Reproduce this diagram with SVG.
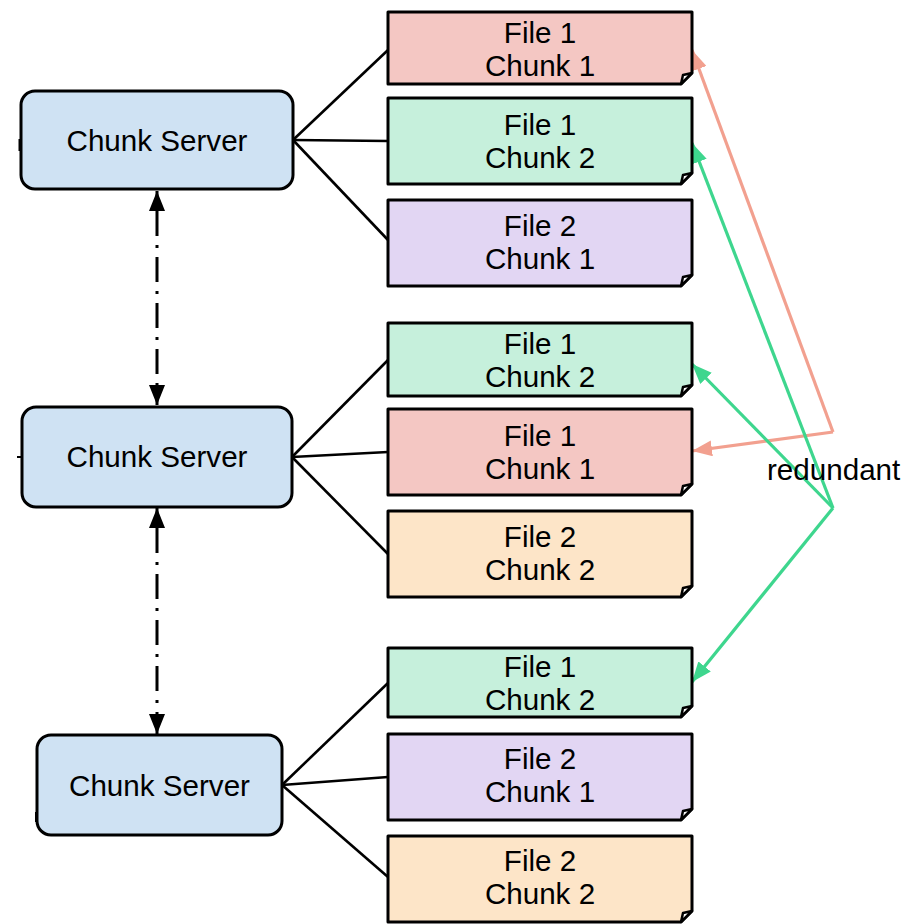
<svg xmlns="http://www.w3.org/2000/svg" width="905" height="924" viewBox="0 0 905 924">
<defs>
<style>
.srv{fill:#cfe2f3;stroke:#000;stroke-width:3}
.box{stroke:#000;stroke-width:3;stroke-linejoin:round}
.fold{fill:#fff;stroke:#000;stroke-width:2.5;stroke-linejoin:round}
.red{fill:#f4c7c3}.grn{fill:#c6f0dc}.pur{fill:#e2d6f3}.org{fill:#fde5c8}
text{font-family:"Liberation Sans",Arial,sans-serif;font-size:29.6px;fill:#000;text-anchor:middle}
.con{stroke:#000;stroke-width:2.6;fill:none}
.dd{stroke:#000;stroke-width:3;fill:none;marker-start:url(#ab);marker-end:url(#ab)}
.ra{stroke:#f2a08f;stroke-width:3.2;fill:none}
.ga{stroke:#3ed68e;stroke-width:3.2;fill:none}
</style>
<marker id="ab" viewBox="0 0 20 16" refX="20" refY="8" markerWidth="20" markerHeight="16" markerUnits="userSpaceOnUse" orient="auto-start-reverse"><path d="M0,0 L20,8 L0,16 Z" fill="#000"/></marker>
<marker id="ar" viewBox="0 0 20 16" refX="20" refY="8" markerWidth="20" markerHeight="16" markerUnits="userSpaceOnUse" orient="auto"><path d="M0,0 L20,8 L0,16 Z" fill="#f2a08f"/></marker>
<marker id="ag" viewBox="0 0 20 16" refX="20" refY="8" markerWidth="20" markerHeight="16" markerUnits="userSpaceOnUse" orient="auto"><path d="M0,0 L20,8 L0,16 Z" fill="#3ed68e"/></marker>
</defs>
<rect width="905" height="924" fill="#fff"/>

<g id="connectors">
<line class="con" x1="293" y1="140" x2="388" y2="50"/>
<line class="con" x1="293" y1="140" x2="388" y2="141"/>
<line class="con" x1="293" y1="140" x2="388" y2="240"/>
<line class="con" x1="292" y1="457" x2="388" y2="360"/>
<line class="con" x1="292" y1="457" x2="388" y2="452"/>
<line class="con" x1="292" y1="457" x2="388" y2="554"/>
<line class="con" x1="282" y1="785" x2="388" y2="683"/>
<line class="con" x1="282" y1="785" x2="388" y2="777"/>
<line class="con" x1="282" y1="785" x2="388" y2="877"/>
<line class="dd" x1="157" y1="191" x2="157" y2="405" stroke-dasharray="45 9 3 9 25 9 3 9 25 9 3 9 25 9 3 9 70"/>
<line class="dd" x1="157" y1="508" x2="157" y2="734" stroke-dasharray="45 9 3 9 25 9 3 9 25 9 3 9 25 9 3 9 25 9 3 9 70"/>
<line class="ra" x1="833" y1="432" x2="692" y2="50" marker-end="url(#ar)"/>
<line class="ra" x1="833" y1="432" x2="692" y2="451" marker-end="url(#ar)"/>
<line class="ga" x1="833" y1="508" x2="692" y2="143" marker-end="url(#ag)"/>
<line class="ga" x1="833" y1="508" x2="692" y2="364" marker-end="url(#ag)"/>
<line class="ga" x1="833" y1="508" x2="692" y2="682" marker-end="url(#ag)"/>
<line stroke="#000" stroke-width="3" x1="20" y1="139" x2="20" y2="151"/>
<line stroke="#000" stroke-width="2" x1="17" y1="457" x2="23" y2="457"/>
<line stroke="#000" stroke-width="2" x1="36" y1="812" x2="36" y2="822"/>
</g>

<g id="server1"><rect class="srv" x="21" y="91" width="272" height="98" rx="14"/><text x="157" y="150.5">Chunk Server</text></g>
<g id="server2"><rect class="srv" x="22" y="407" width="270" height="100" rx="14"/><text x="157" y="467">Chunk Server</text></g>
<g id="server3"><rect class="srv" x="37" y="735" width="245" height="100" rx="14"/><text x="159.5" y="795.5">Chunk Server</text></g>

<g id="b1"><path class="box red" d="M388,12 H692 V73 L681,84 H388 Z"/><path class="fold" d="M692,73 L683,75 L681,84 Z"/><text x="540" y="43">File 1</text><text x="540" y="76">Chunk 1</text></g>
<g id="b2"><path class="box grn" d="M388,98 H692 V173 L681,184 H388 Z"/><path class="fold" d="M692,173 L683,175 L681,184 Z"/><text x="540" y="135">File 1</text><text x="540" y="168">Chunk 2</text></g>
<g id="b3"><path class="box pur" d="M388,200 H692 V275 L681,286 H388 Z"/><path class="fold" d="M692,275 L683,277 L681,286 Z"/><text x="540" y="236">File 2</text><text x="540" y="269">Chunk 1</text></g>
<g id="b4"><path class="box grn" d="M388,323 H692 V385 L681,396 H388 Z"/><path class="fold" d="M692,385 L683,387 L681,396 Z"/><text x="540" y="354">File 1</text><text x="540" y="387">Chunk 2</text></g>
<g id="b5"><path class="box red" d="M388,409 H692 V484 L681,495 H388 Z"/><path class="fold" d="M692,484 L683,486 L681,495 Z"/><text x="540" y="446">File 1</text><text x="540" y="479">Chunk 1</text></g>
<g id="b6"><path class="box org" d="M388,511 H692 V586 L681,597 H388 Z"/><path class="fold" d="M692,586 L683,588 L681,597 Z"/><text x="540" y="547">File 2</text><text x="540" y="580">Chunk 2</text></g>
<g id="b7"><path class="box grn" d="M388,648 H692 V706 L681,717 H388 Z"/><path class="fold" d="M692,706 L683,708 L681,717 Z"/><text x="540" y="677">File 1</text><text x="540" y="710">Chunk 2</text></g>
<g id="b8"><path class="box pur" d="M388,734 H692 V809 L681,820 H388 Z"/><path class="fold" d="M692,809 L683,811 L681,820 Z"/><text x="540" y="769">File 2</text><text x="540" y="802">Chunk 1</text></g>
<g id="b9"><path class="box org" d="M388,836 H692 V911 L681,922 H388 Z"/><path class="fold" d="M692,911 L683,913 L681,922 Z"/><text x="540" y="871">File 2</text><text x="540" y="904">Chunk 2</text></g>

<g id="label"><text x="767" y="480" style="text-anchor:start">redundant</text></g>
</svg>
